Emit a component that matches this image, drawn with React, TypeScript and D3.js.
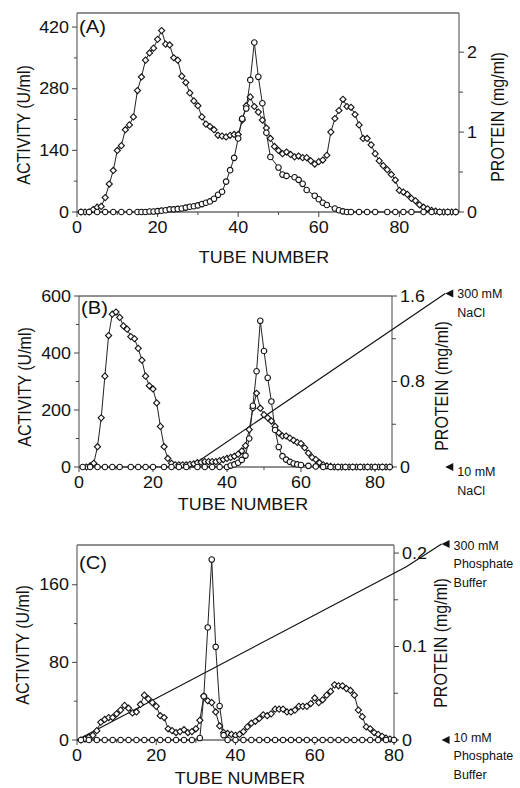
import React from "react";
import * as d3 from "d3";

type Pt = [number, number];

const W = 520;
const H = 788;
const FONT = "'Liberation Sans', Arial, Helvetica, sans-serif";
const SX = 1.12; // the figure's text is a bit wide

// shared tube axis
const tubeTicks = [0, 20, 40, 60, 80];
const tubeMinor = [10, 30, 50, 70, 90];

// ---- panel (A) ----
const activityA: Pt[] = [
  [1, 0], [3, 0], [5, 0], [7, 0], [9, 0], [11, 0], [13, 0], [15, 0], [16, 0], [17, 0], [18, 1], [19, 1],
  [20, 2], [21, 3], [22, 4], [23, 6], [24, 6], [25, 7], [26, 8], [27, 10], [28, 12], [29, 13], [30, 15],
  [31, 18], [32, 21], [33, 24], [34, 30], [35, 39], [36, 46], [37, 69], [38, 95], [39, 123], [40, 167],
  [41, 212], [42, 235], [43, 300], [44, 385], [45, 307], [46, 247], [47, 180], [48, 125], [50, 101],
  [51, 85], [52, 82], [54, 79], [55, 73], [56, 64], [57, 50], [59, 37], [60, 29], [61, 21], [62, 16],
  [64, 8], [65, 4], [66, 1.5], [67, 0], [68, 0], [70, 0], [72, 0], [74, 0], [77, 0], [79, 0], [81, 0],
  [83, 0], [86, 0], [88, 0], [90, 0], [92, 0], [94, 0],
];
const proteinA: Pt[] = [
  [1, 0], [2, 0], [3, 0], [4, 0.03], [5, 0.06], [6, 0.07], [7, 0.18], [8, 0.35], [9, 0.52], [10, 0.77],
  [11, 0.83], [12, 1.03], [13, 1.09], [14, 1.19], [15, 1.52], [16, 1.69], [17, 1.9], [18, 1.99], [19, 2.05],
  [20, 2.16], [21, 2.27], [22, 2.1], [23, 2.09], [24, 1.93], [25, 1.9], [26, 1.7], [27, 1.62], [28, 1.49],
  [29, 1.39], [30, 1.33], [31, 1.19], [32, 1.1], [33, 1.07], [34, 1.03], [35, 0.96], [36, 0.95], [37, 0.94],
  [38, 0.96], [39, 0.97], [40, 0.97], [41, 1.15], [42, 1.33], [43, 1.44], [44, 1.32], [45, 1.25], [46, 1.15],
  [47, 1.05], [48, 0.92], [49, 0.82], [50, 0.77], [51, 0.73], [52, 0.75], [53, 0.72], [54, 0.69], [55, 0.7],
  [56, 0.68], [57, 0.68], [58, 0.64], [59, 0.6], [60, 0.63], [61, 0.65], [62, 0.71], [63, 1.0], [64, 1.17],
  [65, 1.27], [66, 1.41], [67, 1.32], [68, 1.31], [69, 1.22], [70, 1.09], [71, 0.92], [72, 0.92], [73, 0.84],
  [74, 0.73], [75, 0.64], [76, 0.58], [77, 0.53], [78, 0.47], [79, 0.4], [80, 0.27], [81, 0.25], [82, 0.22],
  [83, 0.17], [84, 0.14], [85, 0.09], [86, 0.06], [87, 0.04], [88, 0.02], [89, 0.01], [90, 0], [91, 0],
  [92, 0], [93, 0], [94, 0],
];
const activityTicksA = [0, 140, 280, 420];
const activityMinorA = [70, 210, 350];
const proteinTicksA = [0, 1, 2];
const proteinMinorA = [0.5, 1.5];

// ---- panel (B) ----
const activityB: Pt[] = [
  [1, 0], [3, 0], [5, 0], [7, 0], [9, 0], [11, 0], [14, 0], [16, 0], [18, 0], [20, 0], [23, 0], [25, 0],
  [27, 0], [29, 0], [32, 0], [34, 0], [36, 0], [38, 0], [40, 0], [41, 5], [42, 9], [43, 15], [44, 25],
  [45, 40], [46, 100], [47, 215], [48, 336], [49, 513], [50, 407], [51, 313], [52, 230], [53, 130],
  [54, 70], [55, 38], [56, 26], [57, 18], [58, 12], [59, 9], [60, 7], [62, 4], [64, 2], [66, 0], [68, 0],
  [70, 0], [72, 0], [74, 0], [76, 0], [78, 0], [80, 0], [82, 0], [84, 0],
];
const proteinB: Pt[] = [
  [2, 0], [3, 0.01], [4, 0.035], [5, 0.19], [6, 0.46], [7, 0.85], [8, 1.23], [9, 1.43], [10, 1.45],
  [11, 1.4], [12, 1.32], [13, 1.29], [14, 1.22], [15, 1.2], [16, 1.11], [17, 1.0], [18, 0.85], [19, 0.76],
  [20, 0.73], [21, 0.6], [22, 0.38], [23, 0.19], [24, 0.08], [25, 0.035], [26, 0.02], [27, 0.02], [28, 0.02],
  [29, 0.02], [30, 0.025], [31, 0.03], [32, 0.04], [33, 0.045], [34, 0.05], [35, 0.05], [36, 0.05],
  [37, 0.05], [38, 0.06], [39, 0.07], [40, 0.08], [41, 0.09], [42, 0.1], [43, 0.12], [44, 0.15], [45, 0.2],
  [46, 0.35], [47, 0.55], [48, 0.69], [49, 0.55], [50, 0.49], [51, 0.46], [52, 0.43], [53, 0.38], [54, 0.32],
  [55, 0.29], [56, 0.29], [57, 0.27], [58, 0.25], [59, 0.23], [60, 0.22], [61, 0.18], [62, 0.13], [63, 0.09],
  [64, 0.07], [65, 0.04], [66, 0.02], [67, 0.01], [68, 0.005], [69, 0], [70, 0], [71, 0], [72, 0], [73, 0],
  [74, 0], [75, 0], [76, 0], [77, 0], [78, 0], [79, 0], [80, 0], [81, 0], [82, 0], [83, 0], [84, 0],
];
const activityTicksB = [0, 200, 400, 600];
const activityMinorB = [100, 300, 500];
const proteinTicksB = [0, 0.8, 1.6];
const proteinMinorB = [0.4, 1.2];
const gradientB: Pt[] = [[30, 10], [99, 300]]; // tube, mM NaCl
const saltLabelsB = { top: ["300 mM", "NaCl"], bottom: ["10 mM", "NaCl"] };

// ---- panel (C) ----
const activityC: Pt[] = [
  [1, 0], [3, 0], [5, 0], [7, 0], [9, 0], [11, 0], [13, 0], [15, 0], [17, 0], [19, 0], [21, 0], [23, 0],
  [25, 0], [27, 0], [29, 0], [31, 2], [32, 45], [33, 116], [34, 186], [35, 96], [36, 35], [37, 5], [38, 0],
  [40, 0], [42, 0], [44, 0], [46, 0], [48, 0], [50, 0], [52, 0], [54, 0], [56, 0], [58, 0], [60, 0],
  [62, 0], [64, 0], [66, 0], [68, 0], [70, 0], [72, 0], [74, 0], [76, 0], [78, 0], [80, 0],
];
const proteinC: Pt[] = [
  [1, 0], [2, 0.001], [3, 0.003], [4, 0.005], [5, 0.01], [6, 0.019], [7, 0.022], [8, 0.024], [9, 0.024],
  [10, 0.028], [11, 0.032], [12, 0.037], [13, 0.034], [14, 0.029], [15, 0.03], [16, 0.038], [17, 0.048],
  [18, 0.044], [19, 0.04], [20, 0.036], [21, 0.026], [22, 0.024], [23, 0.012], [24, 0.01], [25, 0.008],
  [26, 0.009], [27, 0.011], [28, 0.008], [29, 0.009], [30, 0.012], [31, 0.021], [32, 0.047], [33, 0.042],
  [34, 0.04], [35, 0.03], [36, 0.015], [37, 0.008], [38, 0.007], [39, 0.006], [40, 0.005], [41, 0.006],
  [42, 0.009], [43, 0.014], [44, 0.018], [45, 0.02], [46, 0.023], [47, 0.027], [48, 0.026], [49, 0.028],
  [50, 0.033], [51, 0.033], [52, 0.033], [53, 0.03], [54, 0.03], [55, 0.032], [56, 0.036], [57, 0.036],
  [58, 0.036], [59, 0.039], [60, 0.045], [61, 0.04], [62, 0.043], [63, 0.048], [64, 0.052], [65, 0.059],
  [66, 0.058], [67, 0.058], [68, 0.055], [69, 0.053], [70, 0.048], [71, 0.032], [72, 0.025], [73, 0.014],
  [74, 0.012], [75, 0.008], [76, 0.006], [77, 0.004], [78, 0.002], [79, 0.001], [80, 0],
];
const activityTicksC = [0, 80, 160];
const activityMinorC = [40, 120];
const proteinTicksC = [0, 0.1, 0.2];
const proteinMinorC = [0.05, 0.15];
const gradientC: Pt[] = [[0, 10], [83, 266], [92, 300]]; // tube, mM phosphate
const saltLabelsC = { top: ["300 mM", "Phosphate", "Buffer"], bottom: ["10 mM", "Phosphate", "Buffer"] };

type PanelDef = {
  letter: string;
  left: number; right: number; top: number; bottom: number;
  xMax: number; leftMax: number; rightMax: number;
  leftTicks: number[]; leftMinor: number[]; rightTicks: number[]; rightMinor: number[];
  activity: Pt[]; protein: Pt[];
  gradient?: Pt[]; saltTop?: number; salt?: { top: string[]; bottom: string[] };
  saltTopDy?: number; saltBotDy?: number; saltGap?: number;
  letterY: number; leftTitleX: number; leftTitleY: number; rightTitleX: number; rightTitleY: number;
  xTitleX: number; xTitleY: number;
};

const panels: PanelDef[] = [
  {
    letter: "(A)", left: 77, right: 459, top: 13, bottom: 212, xMax: 94.8, leftMax: 452, rightMax: 2.49,
    leftTicks: activityTicksA, leftMinor: activityMinorA, rightTicks: proteinTicksA, rightMinor: proteinMinorA,
    activity: activityA, protein: proteinA,
    letterY: 33, leftTitleX: 30, leftTitleY: 125, rightTitleX: 504, rightTitleY: 117, xTitleX: 264, xTitleY: 263,
  },
  {
    letter: "(B)", left: 79, right: 392, top: 296, bottom: 467, xMax: 84.6, leftMax: 600, rightMax: 1.6,
    leftTicks: activityTicksB, leftMinor: activityMinorB, rightTicks: proteinTicksB, rightMinor: proteinMinorB,
    activity: activityB, protein: proteinB,
    gradient: gradientB, saltTop: 293.5, salt: saltLabelsB, saltTopDy: 4.5, saltBotDy: 9, saltGap: 18.5,
    letterY: 314, leftTitleX: 31, leftTitleY: 387, rightTitleX: 448, rightTitleY: 386, xTitleX: 243, xTitleY: 510,
  },
  {
    letter: "(C)", left: 77, right: 394, top: 545, bottom: 740, xMax: 80, leftMax: 201, rightMax: 0.2086,
    leftTicks: activityTicksC, leftMinor: activityMinorC, rightTicks: proteinTicksC, rightMinor: proteinMinorC,
    activity: activityC, protein: proteinC,
    gradient: gradientC, saltTop: 544, salt: saltLabelsC, saltTopDy: 6, saltBotDy: 2, saltGap: 18.3,
    letterY: 569, leftTitleX: 29, leftTitleY: 645, rightTitleX: 447, rightTitleY: 643, xTitleX: 240, xTitleY: 784,
  },
];

function T(props: { x: number; y: number; anchor?: string; size: number; rotate?: boolean; children: React.ReactNode }) {
  const { x, y, anchor, size, rotate, children } = props;
  return (
    <text
      transform={`translate(${x},${y}) scale(${SX},1)${rotate ? " rotate(-90)" : ""}`}
      textAnchor={anchor || "start"}
      fontSize={size}
      fontFamily={FONT}
      fill="#111"
    >
      {children}
    </text>
  );
}

const circlePath = d3.symbol().type(d3.symbolCircle).size(24)()!;
const diamondPath = d3.symbol().type(d3.symbolSquare).size(19)()!;

function Panel({ p }: { p: PanelDef }) {
  const x = d3.scaleLinear().domain([0, p.xMax]).range([p.left, p.right]);
  const yL = d3.scaleLinear().domain([0, p.leftMax]).range([p.bottom, p.top]);
  const yR = d3.scaleLinear().domain([0, p.rightMax]).range([p.bottom, p.top]);
  const lineL = d3.line<Pt>().x(d => x(d[0])).y(d => yL(d[1]));
  const lineR = d3.line<Pt>().x(d => x(d[0])).y(d => yR(d[1]));
  const xMinor = tubeMinor.filter(t => t < p.xMax);

  let gradient = null;
  if (p.gradient && p.salt) {
    const yS = d3.scaleLinear().domain([10, 300]).range([p.bottom, p.saltTop!]);
    const gLine = d3.line<Pt>().x(d => x(d[0])).y(d => yS(d[1]));
    const tipX = x(p.gradient[p.gradient.length - 1][0]);
    const tri = (cy: number) => `M${tipX},${cy} L${tipX + 8},${cy - 4} L${tipX + 8},${cy + 4} Z`;
    const lx = tipX + 12;
    gradient = (
      <g>
        <path d={gLine(p.gradient)!} fill="none" stroke="#111" strokeWidth={1.2} />
        <path d={tri(yS(300))} fill="#111" />
        <path d={tri(yS(10))} fill="#111" />
        {p.salt.top.map((s, i) => (
          <text key={"st" + i} x={lx} y={yS(300) + p.saltTopDy! + i * p.saltGap!} fontSize={12.5} fontFamily={FONT} fill="#111">{s}</text>
        ))}
        {p.salt.bottom.map((s, i) => (
          <text key={"sb" + i} x={lx} y={yS(10) + p.saltBotDy! + i * p.saltGap!} fontSize={12.5} fontFamily={FONT} fill="#111">{s}</text>
        ))}
      </g>
    );
  }

  return (
    <g>
      {/* frame */}
      <line x1={p.left} x2={p.right} y1={p.top} y2={p.top} stroke="#222" strokeWidth={1.2} />
      <line x1={p.left} x2={p.right} y1={p.bottom} y2={p.bottom} stroke="#222" strokeWidth={1.2} />
      <line x1={p.left} x2={p.left} y1={p.top} y2={p.bottom} stroke="#666" strokeWidth={1.2} />
      <line x1={p.right} x2={p.right} y1={p.top} y2={p.bottom} stroke="#666" strokeWidth={1.2} />

      {/* x ticks */}
      {tubeTicks.map(t => (
        <g key={"x" + t}>
          <line x1={x(t)} x2={x(t)} y1={p.bottom} y2={p.bottom + 5} stroke="#444" />
          <T x={x(t)} y={p.bottom + 21} anchor="middle" size={16}>{t}</T>
        </g>
      ))}
      {xMinor.map(t => (
        <line key={"xm" + t} x1={x(t)} x2={x(t)} y1={p.bottom} y2={p.bottom + 3} stroke="#444" />
      ))}

      {/* left axis */}
      {p.leftTicks.map(t => (
        <g key={"l" + t}>
          <line x1={p.left - 5} x2={p.left} y1={yL(t)} y2={yL(t)} stroke="#444" />
          <T x={p.left - 8} y={yL(t) + 5.7} anchor="end" size={16}>{t}</T>
        </g>
      ))}
      {p.leftMinor.map(t => (
        <line key={"lm" + t} x1={p.left - 3} x2={p.left} y1={yL(t)} y2={yL(t)} stroke="#444" />
      ))}

      {/* right axis */}
      {p.rightTicks.map(t => (
        <g key={"r" + t}>
          <line x1={p.right} x2={p.right + 5} y1={yR(t)} y2={yR(t)} stroke="#444" />
          <T x={p.right + 8} y={yR(t) + 5.7} size={16}>{t}</T>
        </g>
      ))}
      {p.rightMinor.map(t => (
        <line key={"rm" + t} x1={p.right} x2={p.right + 4} y1={yR(t)} y2={yR(t)} stroke="#444" />
      ))}

      {/* titles */}
      <T x={p.leftTitleX} y={p.leftTitleY} anchor="middle" size={16} rotate>ACTIVITY (U/ml)</T>
      <T x={p.rightTitleX} y={p.rightTitleY} anchor="middle" size={16} rotate>PROTEIN (mg/ml)</T>
      <T x={p.xTitleX} y={p.xTitleY} anchor="middle" size={16}>TUBE NUMBER</T>
      <T x={p.left + 2} y={p.letterY} size={18}>{p.letter}</T>

      {gradient}

      {/* series */}
      <path d={lineR(p.protein)!} fill="none" stroke="#222" strokeWidth={1} />
      <path d={lineL(p.activity)!} fill="none" stroke="#222" strokeWidth={1} />
      {p.protein.map((d, i) => (
        <path key={"pd" + i} d={diamondPath} transform={`translate(${x(d[0])},${yR(d[1])}) rotate(45)`}
          fill="#fff" stroke="#111" strokeWidth={1.1} />
      ))}
      {p.activity.map((d, i) => (
        <path key={"ac" + i} d={circlePath} transform={`translate(${x(d[0])},${yL(d[1])})`}
          fill="#fff" stroke="#111" strokeWidth={1.1} />
      ))}
    </g>
  );
}

export default function App() {
  return (
    <svg width={W} height={H} style={{ position: "absolute", left: 0, top: 0, background: "#fff" }}>
      <rect width={W} height={H} fill="#fff" />
      {panels.map(p => <Panel key={p.letter} p={p} />)}
    </svg>
  );
}
